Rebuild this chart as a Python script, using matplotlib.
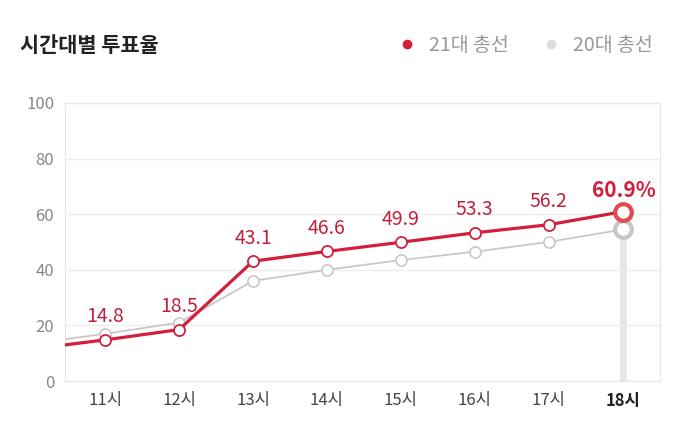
import matplotlib.pyplot as plt
from matplotlib.lines import Line2D

plt.rcParams["font.family"] = ["Noto Sans CJK JP", "Noto Sans CJK KR", "Noto Sans CJK SC", "DejaVu Sans"]

hours = [10, 11, 12, 13, 14, 15, 16, 17, 18]
tick_labels = ["11시", "12시", "13시", "14시", "15시", "16시", "17시", "18시"]
turnout_21 = [11.5, 14.8, 18.5, 43.1, 46.6, 49.9, 53.3, 56.2, 60.9]
turnout_20 = [13.4, 17.0, 21.0, 36.0, 40.0, 43.5, 46.5, 50.0, 54.5]

RED = "#d21f3c"
GRAY = "#c8c8c8"

fig = plt.figure(figsize=(6.8, 4.36), dpi=100)
ax = fig.add_axes([0.096, 0.126, 0.874, 0.638])

# highlight bar under last point
ax.plot([18, 18], [0, turnout_20[-1]], color="#e6e6e6", lw=5, zorder=1, solid_capstyle="butt")

ax.plot(hours, turnout_20, color=GRAY, lw=1.3, marker="o", ms=8, mfc="white",
        mec=GRAY, mew=1.2, zorder=2)
ax.plot(hours[-1], turnout_20[-1], marker="o", ms=12, mfc="white", mec=GRAY, mew=3, zorder=3)
ax.plot(hours, turnout_21, color=RED, lw=2.3, marker="o", ms=8, mfc="white",
        mec=RED, mew=1.3, zorder=4)
ax.plot(hours[-1], turnout_21[-1], marker="o", ms=12, mfc="white", mec="#e04a50", mew=3, zorder=5)

for h, v in zip(hours[1:-1], turnout_21[1:-1]):
    ax.text(h, v + 4.5, f"{v}", color="#c0203a", fontsize=14, ha="center", va="bottom")
ax.text(hours[-1] + 0.02, turnout_21[-1] + 4, f"{turnout_21[-1]}%", color=RED,
        fontsize=15, fontweight="bold", ha="center", va="bottom")

ax.set_xlim(10.46, 18.5)
ax.set_ylim(0, 100)
ax.set_yticks(range(0, 101, 20))
ax.set_xticks(hours[1:])
ax.set_xticklabels(tick_labels)
for lbl in ax.get_xticklabels():
    lbl.set_color("#444444")
ax.get_xticklabels()[-1].set_fontweight("bold")
ax.get_xticklabels()[-1].set_color("#222222")
ax.tick_params(axis="both", length=0, labelsize=12, pad=8)
ax.tick_params(axis="y", colors="#888888")
ax.grid(axis="y", color="#eeeeee", lw=1)
for s in ax.spines.values():
    s.set_color("#e6e6e6")

fig.text(0.03, 0.895, "시간대별 투표율", fontsize=15, fontweight="bold", color="#222222", va="center")
handles = [Line2D([], [], marker="o", ls="", color=RED, ms=6),
           Line2D([], [], marker="o", ls="", color="#dddddd", ms=6)]
fig.legend(handles, ["21대 총선", "20대 총선"], loc="center right", bbox_to_anchor=(0.985, 0.895),
           ncol=2, frameon=False, fontsize=14, handletextpad=0.1, columnspacing=1.2,
           labelcolor="#999999")

fig.savefig("out.png")
